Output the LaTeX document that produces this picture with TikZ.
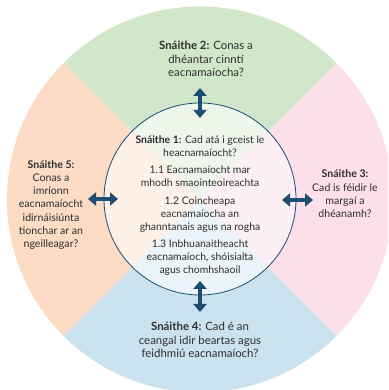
\documentclass[tikz,border=0pt]{standalone}
\usepackage{fontspec}
\setmainfont{Lato}
\usetikzlibrary{arrows.meta}
\definecolor{qgreen}{HTML}{D1E7C9}
\definecolor{qpink}{HTML}{FCDFE9}
\definecolor{qblue}{HTML}{CBE3EF}
\definecolor{qorange}{HTML}{FDDCC5}
\definecolor{igreen}{HTML}{EEF5EA}
\definecolor{ipink}{HTML}{FDF0F4}
\definecolor{iblue}{HTML}{EBF4F9}
\definecolor{iorange}{HTML}{FEF1E8}
\definecolor{navy}{HTML}{1D4D72}
\definecolor{txt}{HTML}{2E2E2E}
\tikzset{
  lbl/.style={align=center, text=txt, font=\fontsize{10.6pt}{13.3pt}\selectfont, inner sep=0pt},
  wlbl/.style={align=center, text=txt, font=\fontsize{11.4pt}{13.3pt}\selectfont, inner sep=0pt},
  ilbl/.style={align=center, text=txt, font=\fontsize{10.4pt}{13pt}\selectfont, inner sep=0pt},
  dbl/.style={navy, line width=4.8pt, {Triangle[width=13pt,length=8pt]}-{Triangle[width=13pt,length=8pt]}}
}
\begin{document}
\begin{tikzpicture}[x=1pt,y=1pt]
\useasboundingbox (0,0) rectangle (388,390);
\clip (0,0) rectangle (388,390);
\coordinate (c) at (200,190.5);
\coordinate (ci) at (200,191);
% outer quadrants
\fill[qgreen] (c) -- ++(45:193) arc[start angle=45,end angle=135,radius=193] -- cycle;
\fill[qorange] (c) -- ++(135:193) arc[start angle=135,end angle=225,radius=193] -- cycle;
\fill[qblue] (c) -- ++(225:193) arc[start angle=225,end angle=315,radius=193] -- cycle;
\fill[qpink] (c) -- ++(315:193) arc[start angle=315,end angle=405,radius=193] -- cycle;
% inner circle
\fill[igreen] (ci) -- ++(45:96) arc[start angle=45,end angle=135,radius=96] -- cycle;
\fill[iorange] (ci) -- ++(135:96) arc[start angle=135,end angle=225,radius=96] -- cycle;
\fill[iblue] (ci) -- ++(225:96) arc[start angle=225,end angle=315,radius=96] -- cycle;
\fill[ipink] (ci) -- ++(315:96) arc[start angle=315,end angle=405,radius=96] -- cycle;
\draw[navy, line width=0.8pt] (ci) circle[radius=96];
% texts
\node[ilbl] (s1) at (200,184.5) {\textbf{Snáithe 1:} Cad atá i gceist le\\heacnamaíocht?\\[4.3pt]
1.1 Eacnamaíocht mar\\mhodh smaointeoireachta\\[4.3pt]
1.2 Coincheapa\\eacnamaíocha an\\ghanntanais agus na rogha\\[4.3pt]
1.3 Inbhuanaitheacht\\eacnamaíoch, shóisialta\\agus chomhshaoil};
\node[wlbl] (s2) at (206,331) {\textbf{Snáithe 2:} Conas a\\dhéantar cinntí\\eacnamaíocha?};
\node[lbl] (s3) at (345,196) {\textbf{Snáithe 3:}\\Cad is féidir le\\margaí a\\dhéanamh?};
\node[wlbl] (s4) at (200,50) {\textbf{Snáithe 4:} Cad é an\\ceangal idir beartas agus\\feidhmiú eacnamaíoch?};
\node[lbl] (s5) at (51,185) {\textbf{Snáithe 5:}\\Conas a\\imríonn\\eacnamaíocht\\idirnáisiúnta\\tionchar ar an\\ngeilleagar?};
% arrows
\coordinate (at1) at (200,302);
\coordinate (at2) at (200,272);
\coordinate (ab1) at (200,109);
\coordinate (ab2) at (200,78);
\coordinate (al1) at (88,191);
\coordinate (al2) at (118,191);
\coordinate (ar1) at (282,190);
\coordinate (ar2) at (313,190);
\draw[dbl] (at1) -- (at2);
\draw[dbl] (ab1) -- (ab2);
\draw[dbl] (al1) -- (al2);
\draw[dbl] (ar1) -- (ar2);
\end{tikzpicture}
\end{document}
